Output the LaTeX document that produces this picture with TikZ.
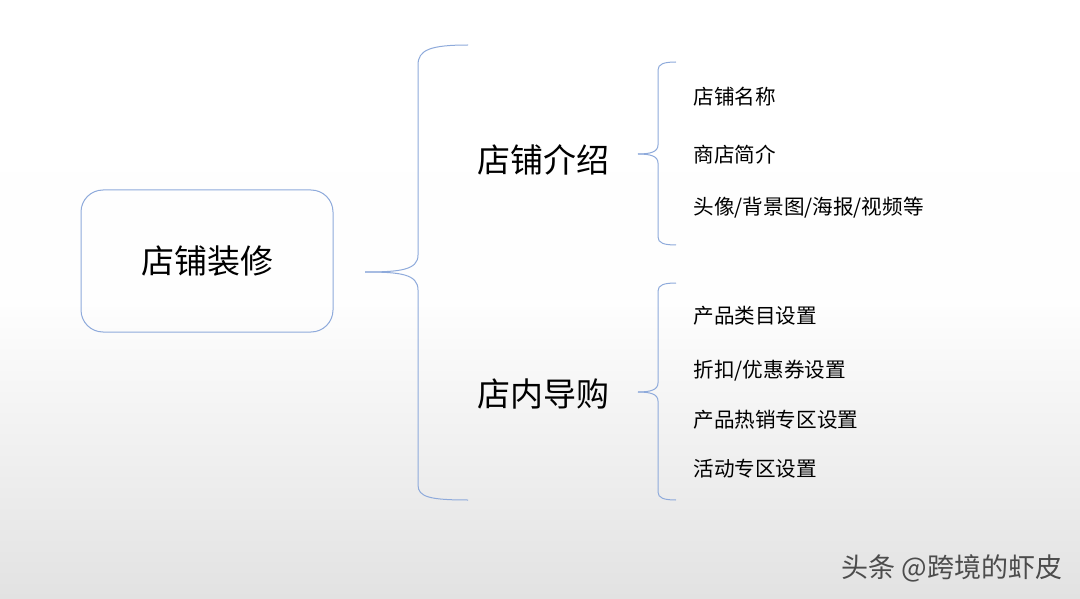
\documentclass[tikz,border=0pt]{standalone}
\usepackage{fontspec}
\setmainfont{Noto Sans CJK SC}
\definecolor{lineblue}{RGB}{142,170,219}
\definecolor{bgtop}{RGB}{255,255,255}
\definecolor{bgbot}{RGB}{226,226,226}
\begin{document}
\begin{tikzpicture}[x=1pt,y=-1pt]
% Styles
\tikzset{
  brace/.style={draw=lineblue,line width=1pt},
  big/.style={font=\fontsize{33}{37}\selectfont},
  item/.style={anchor=west,font=\fontsize{20.6}{24}\selectfont},
}
% Background
\shade[top color=bgtop,bottom color=bgbot,middle color=bgtop!97!bgbot] (0,0) rectangle (1080,599);
\useasboundingbox (0,0) rectangle (1080,599);

% Root
\node[draw=lineblue,line width=1pt,rounded corners=22pt,minimum width=252pt,minimum height=142pt,big] (root) at (207,261) {店铺装修};

% Big brace
\coordinate (tip) at (365,272);
\draw[brace] (tip) .. controls (400,272) and (418,270) .. (418,255) -- (418,65) .. controls (418,50) and (430,45) .. (468,45);
\draw[brace] (tip) .. controls (400,272) and (418,274) .. (418,290) -- (418,485) .. controls (418,497) and (430,500) .. (468,500);

% Second level
\node[big] (intro) at (543,160) {店铺介绍};
\node[big] (guide) at (543,394) {店内导购};

% Small braces
\coordinate (tipa) at (638,154);
\draw[brace] (tipa) .. controls (650,154) and (658,152) .. (658,145) -- (658,70) .. controls (658,64) and (664,62) .. (676,62);
\draw[brace] (tipa) .. controls (650,154) and (658,156) .. (658,163) -- (658,237) .. controls (658,243) and (664,245) .. (676,245);
\coordinate (tipb) at (638,392);
\draw[brace] (tipb) .. controls (650,392) and (658,390) .. (658,383) -- (658,291) .. controls (658,285) and (664,283) .. (676,283);
\draw[brace] (tipb) .. controls (650,392) and (658,394) .. (658,401) -- (658,492) .. controls (658,498) and (664,500) .. (676,500);

% Items
\node[item] (a1) at (690,97) {店铺名称};
\node[item] (a2) at (690,155) {商店简介};
\node[item] (a3) at (690,208) {头像/背景图/海报/视频等};
\node[item] (b1) at (690,316) {产品类目设置};
\node[item] (b2) at (690,371) {折扣/优惠券设置};
\node[item] (b3) at (690,420) {产品热销专区设置};
\node[item] (b4) at (690,469) {活动专区设置};

% Watermark
\node[anchor=east,text=black!70,font=\fontsize{27}{30}\selectfont] (mark) at (1066,568) {头条 @跨境的虾皮};
\end{tikzpicture}
\end{document}
